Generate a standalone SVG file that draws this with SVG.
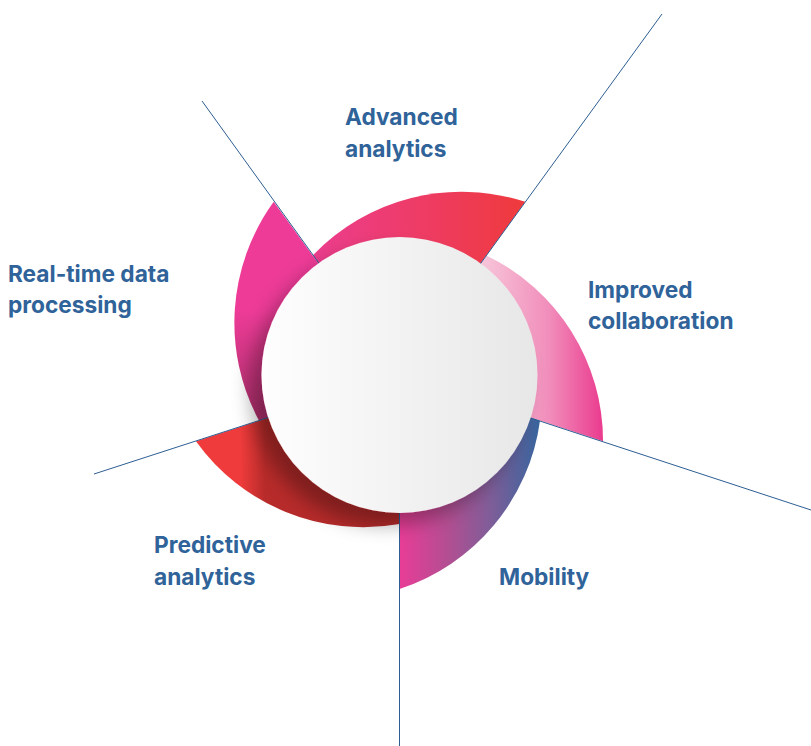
<svg xmlns="http://www.w3.org/2000/svg" width="811" height="746" viewBox="0 0 811 746">
  <defs>
    <linearGradient id="gAdv" gradientUnits="userSpaceOnUse" x1="312" y1="0" x2="525" y2="0">
      <stop offset="0" stop-color="#ec3d8f"/>
      <stop offset="1" stop-color="#ef3a3c"/>
    </linearGradient>
    <linearGradient id="gImp" gradientUnits="userSpaceOnUse" x1="485" y1="0" x2="603" y2="0">
      <stop offset="0" stop-color="#f7c3d8"/>
      <stop offset="0.55" stop-color="#f18cba"/>
      <stop offset="1" stop-color="#ea3a8e"/>
    </linearGradient>
    <linearGradient id="gMob" gradientUnits="userSpaceOnUse" x1="400" y1="0" x2="542" y2="0">
      <stop offset="0" stop-color="#e83d97"/>
      <stop offset="0.35" stop-color="#b04f92"/>
      <stop offset="0.65" stop-color="#7c5e99"/>
      <stop offset="1" stop-color="#33659e"/>
    </linearGradient>
    <linearGradient id="gPre" gradientUnits="userSpaceOnUse" x1="195" y1="0" x2="400" y2="0">
      <stop offset="0.22" stop-color="#ef3b3b"/>
      <stop offset="0.34" stop-color="#b72b2a"/>
      <stop offset="1" stop-color="#b52a2a"/>
    </linearGradient>
    <linearGradient id="gRt" gradientUnits="userSpaceOnUse" x1="0" y1="200" x2="0" y2="422">
      <stop offset="0.5" stop-color="#ed3b97"/>
      <stop offset="0.95" stop-color="#b3306f"/>
    </linearGradient>
    <linearGradient id="gCir" gradientUnits="userSpaceOnUse" x1="261" y1="0" x2="537" y2="0">
      <stop offset="0" stop-color="#fefefe"/>
      <stop offset="1" stop-color="#e8e7e7"/>
    </linearGradient>
    <filter id="sh" x="-30%" y="-30%" width="160%" height="160%">
      <feGaussianBlur in="SourceAlpha" stdDeviation="9"/>
      <feOffset dx="-12" dy="13" result="b"/>
      <feFlood flood-color="#000" flood-opacity="0.3"/>
      <feComposite in2="b" operator="in"/>
      <feMerge>
        <feMergeNode/>
        <feMergeNode in="SourceGraphic"/>
      </feMerge>
    </filter>
  </defs>
  <style>
    .lbl { font-family: Inter, "Liberation Sans", Arial, sans-serif; font-weight: 700; font-size: 22.7px; fill: #2f6399; }
    .ln { stroke: #2d5e93; stroke-width: 1; fill: none; }
  </style>
  <g transform="translate(0.5,0)">
    <g id="petal-advanced">
      <path d="M399,375 L524.79,201.87 A206,206 0 0 0 312.18,255.51 Z" fill="url(#gAdv)"/>
    </g>
    <g id="petal-improved">
      <path d="M399,375 L602.53,441.13 A206,206 0 0 0 485.82,255.50 Z" fill="url(#gImp)"/>
    </g>
    <g id="petal-mobility">
      <path d="M399,375 L399,589 A206,206 0 0 0 539.48,420.64 Z" fill="url(#gMob)"/>
    </g>
    <g id="petal-predictive">
      <path d="M399,375 L195.47,441.13 A206,206 0 0 0 399,524 Z" fill="url(#gPre)"/>
    </g>
    <g id="petal-realtime">
      <path d="M399,375 L273.21,201.87 A206,206 0 0 0 258.52,420.65 Z" fill="url(#gRt)"/>
    </g>
    <g id="connectors">
      <line class="ln" x1="399" y1="375" x2="661.5" y2="14"/>
      <line class="ln" x1="399" y1="375" x2="810.5" y2="510"/>
      <line class="ln" x1="399" y1="375" x2="399" y2="746"/>
      <line class="ln" x1="399" y1="375" x2="93.5" y2="474"/>
      <line class="ln" x1="399" y1="375" x2="201.5" y2="101"/>
    </g>
    <g id="hub">
      <circle cx="399" cy="375" r="138" fill="url(#gCir)" filter="url(#sh)"/>
    </g>
  </g>
  <g id="label-advanced">
    <text class="lbl" x="345" y="125">Advanced</text>
    <text class="lbl" x="345" y="157">analytics</text>
  </g>
  <g id="label-improved">
    <text class="lbl" x="588" y="298">Improved</text>
    <text class="lbl" x="588" y="329">collaboration</text>
  </g>
  <g id="label-mobility">
    <text class="lbl" x="499" y="585">Mobility</text>
  </g>
  <g id="label-predictive">
    <text class="lbl" x="154" y="553">Predictive</text>
    <text class="lbl" x="154" y="585">analytics</text>
  </g>
  <g id="label-realtime">
    <text class="lbl" x="8" y="282">Real-time data</text>
    <text class="lbl" x="8" y="313">processing</text>
  </g>
</svg>
